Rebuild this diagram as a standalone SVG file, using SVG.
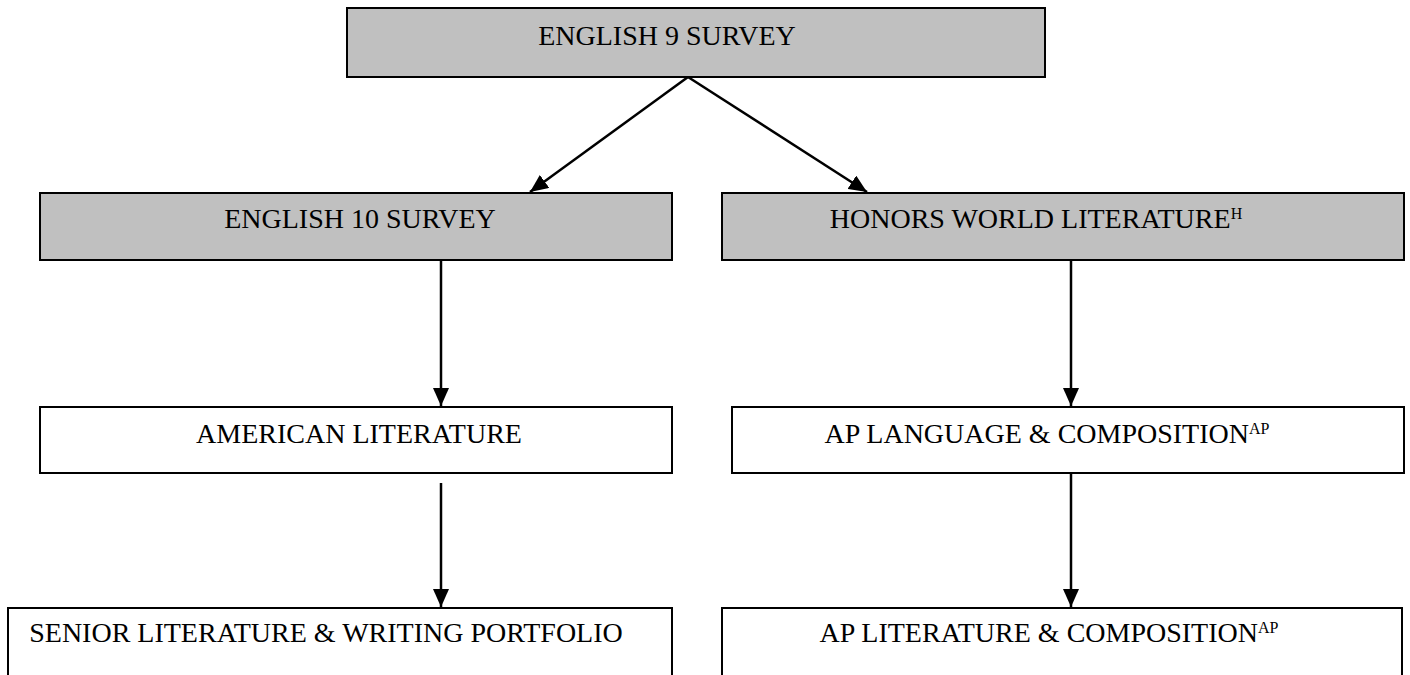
<svg xmlns="http://www.w3.org/2000/svg" width="1410" height="675" viewBox="0 0 1410 675">
<style>
.box{stroke:#000;stroke-width:2}
.gray{fill:#c0c0c0}
.white{fill:#fff}
.t{font-family:"Liberation Serif",serif;font-size:28px;fill:#000;text-anchor:middle}
.sup{font-size:16px}
.c{stroke:#000;stroke-width:2.5;fill:none;marker-end:url(#ah)}
</style>
<defs>
<marker id="ah" markerWidth="18" markerHeight="16" refX="18" refY="8" orient="auto" markerUnits="userSpaceOnUse">
<path d="M0,0 L18,8 L0,16 Z" fill="#000"/>
</marker>
</defs>
<rect width="1410" height="675" fill="#fff"/>
<g id="connectors">
<line class="c" x1="688" y1="77" x2="530" y2="192"/>
<line class="c" x1="688" y1="77" x2="867" y2="192"/>
<line class="c" x1="441" y1="260" x2="441" y2="406"/>
<line class="c" x1="1071" y1="260" x2="1071" y2="406"/>
<line class="c" x1="441" y1="483" x2="441" y2="607"/>
<line class="c" x1="1071" y1="473" x2="1071" y2="607"/>
</g>
<g id="english9">
<rect class="box gray" x="347" y="8" width="698" height="69"/>
<text class="t" x="667" y="45">ENGLISH 9 SURVEY</text>
</g>
<g id="english10">
<rect class="box gray" x="40" y="193" width="632" height="67"/>
<text class="t" x="360" y="228">ENGLISH 10 SURVEY</text>
</g>
<g id="honorsworld">
<rect class="box gray" x="722" y="193" width="682" height="67"/>
<text class="t" x="1036" y="228">HONORS WORLD LITERATURE<tspan class="sup" dy="-9">H</tspan></text>
</g>
<g id="american">
<rect class="box white" x="40" y="407" width="632" height="66"/>
<text class="t" x="359" y="443">AMERICAN LITERATURE</text>
</g>
<g id="aplang">
<rect class="box white" x="732" y="407" width="672" height="66"/>
<text class="t" x="1047" y="443">AP LANGUAGE &amp; COMPOSITION<tspan class="sup" dy="-9">AP</tspan></text>
</g>
<g id="senior">
<rect class="box white" x="8" y="608" width="664" height="80"/>
<text class="t" x="326" y="642">SENIOR LITERATURE &amp; WRITING PORTFOLIO</text>
</g>
<g id="aplit">
<rect class="box white" x="722" y="608" width="680" height="80"/>
<text class="t" x="1049" y="642">AP LITERATURE &amp; COMPOSITION<tspan class="sup" dy="-9">AP</tspan></text>
</g>
</svg>
